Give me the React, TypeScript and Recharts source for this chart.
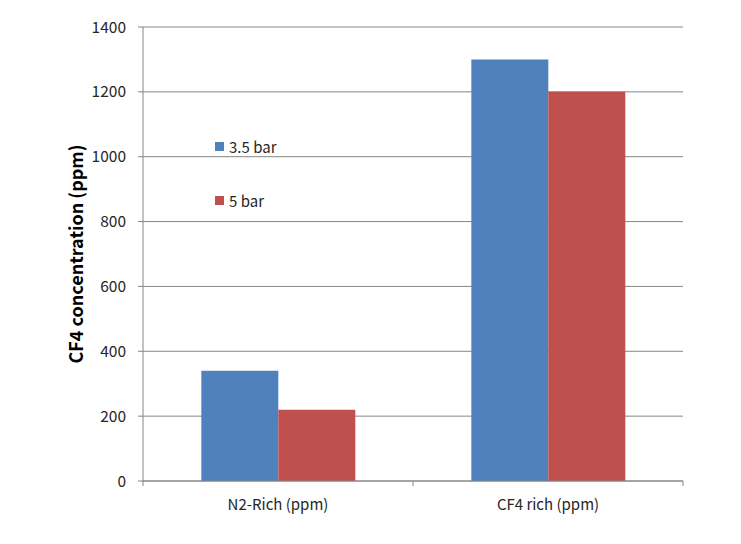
import React from 'react';
import { BarChart, Bar, XAxis, YAxis, CartesianGrid, Legend, Label } from 'recharts';

const categories = ['N2-Rich (ppm)', 'CF4 rich (ppm)'];
const series35 = [340, 1300];
const series5 = [220, 1200];
const yTicks = [0, 200, 400, 600, 800, 1000, 1200, 1400];

const data = categories.map((c, i) => ({ name: c, s35: series35[i], s5: series5[i] }));

const FONT = '"Noto Sans CJK KR", "Noto Sans", sans-serif';
const AXIS = '#868686';

const CatTick = (props: any) => {
  const { x, y, payload, width, visibleTicksCount, index } = props;
  const band = width / visibleTicksCount;
  const axisY = y - 4;
  return (
    <g>
      <line x1={x - band / 2} x2={x - band / 2} y1={axisY} y2={axisY + 5} stroke={AXIS} />
      {index === visibleTicksCount - 1 && (
        <line x1={x + band / 2} x2={x + band / 2} y1={axisY} y2={axisY + 5} stroke={AXIS} />
      )}
      <text x={x} y={axisY + 29} textAnchor="middle" fill="#262626" fontSize={15} fontFamily={FONT}>
        {payload.value}
      </text>
    </g>
  );
};

const LegendContent = (props: any) => {
  const { payload } = props;
  return (
    <div style={{ fontFamily: FONT, fontSize: 15, color: '#262626', whiteSpace: 'nowrap', width: 120 }}>
      {payload.map((p: any, i: number) => (
        <div key={i} style={{ display: 'flex', alignItems: 'center', height: 20, marginBottom: i === 0 ? 34 : 0 }}>
          <span style={{ display: 'inline-block', flexShrink: 0, width: 9, height: 9, background: p.color, marginRight: 5 }} />
          <span>{p.value}</span>
        </div>
      ))}
    </div>
  );
};

export default function App() {
  return (
    <div style={{ position: 'absolute', left: 0, top: 0, width: 741, height: 544, background: '#fff' }}>
      <BarChart
        width={741}
        height={544}
        data={data}
        margin={{ top: 27, right: 58, bottom: 0, left: 0 }}
        barCategoryGap="21.6%"
        barGap={0}
      >
        <CartesianGrid vertical={false} stroke={AXIS} strokeWidth={1} />
        <XAxis
          dataKey="name"
          height={63}
          stroke={AXIS}
          tickLine={false}
          tickSize={0}
          tickMargin={4}
          tick={<CatTick />}
          interval={0}
        />
        <YAxis
          width={143}
          domain={[0, 1400]}
          ticks={yTicks}
          stroke={AXIS}
          tickSize={5}
          tickMargin={12}
          tick={{ fill: '#262626', fontSize: 15.5, fontFamily: FONT }}
        >
          <Label
            content={(p: any) => {
              const vb = p.viewBox;
              const cx = vb.x + 75;
              const cy = vb.y + vb.height / 2;
              return (
                <text
                  x={cx}
                  y={cy}
                  transform={`rotate(-90 ${cx} ${cy})`}
                  textAnchor="middle"
                  dominantBaseline="central"
                  fontWeight="bold"
                  fontSize={18}
                  fontFamily={FONT}
                  fill="#000"
                >
                  CF4 concentration (ppm)
                </text>
              );
            }}
          />
        </YAxis>
        <Legend
          layout="vertical"
          verticalAlign="top"
          align="left"
          content={<LegendContent />}
          wrapperStyle={{ left: 215, top: 136, width: 0, height: 0, overflow: 'visible' }}
        />
        <Bar dataKey="s35" name="3.5 bar" fill="#4F81BD" isAnimationActive={false} />
        <Bar dataKey="s5" name="5 bar" fill="#C0504D" isAnimationActive={false} />
      </BarChart>
    </div>
  );
}
